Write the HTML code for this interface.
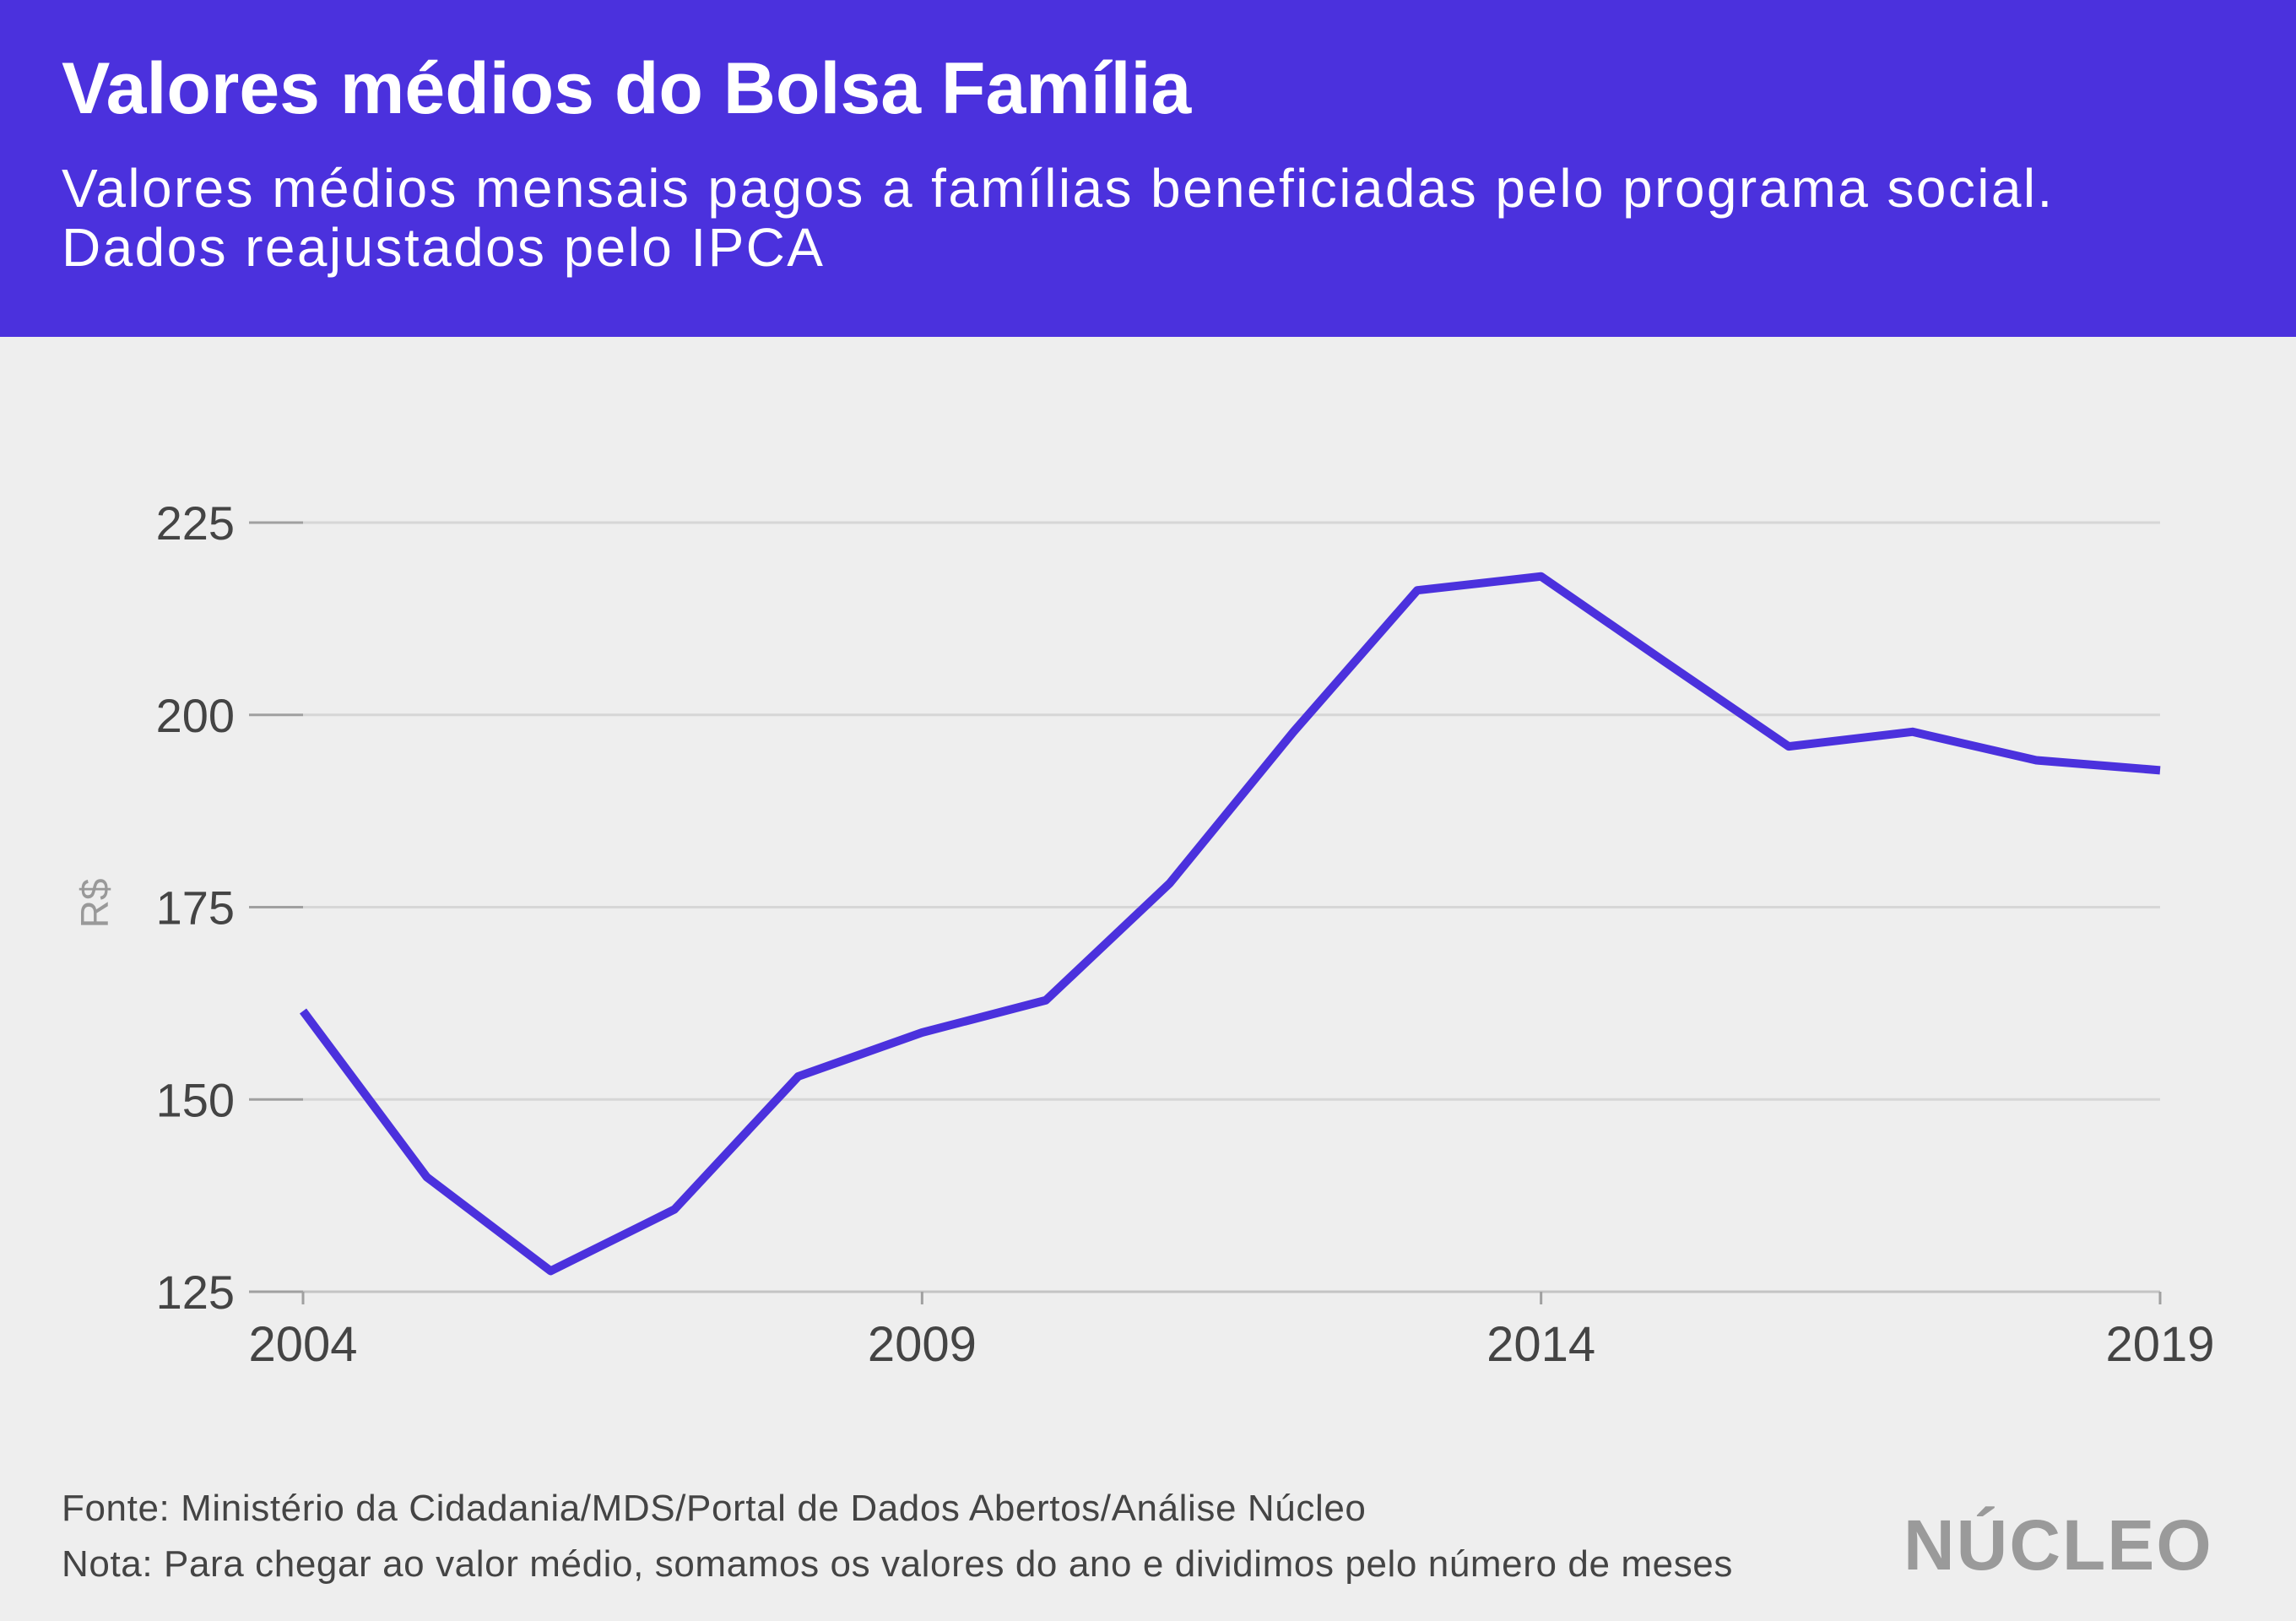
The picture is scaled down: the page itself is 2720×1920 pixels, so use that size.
<!DOCTYPE html>
<html><head><meta charset="utf-8"><style>
body{margin:0;width:2720px;height:1920px;background:#eeeeee;font-family:"Liberation Sans",sans-serif;overflow:hidden;position:relative}
#hdr{position:absolute;left:0;top:0;width:2720px;height:399px;background:#4b31dd}
#title{position:absolute;left:73px;top:56px;color:#fff;font-weight:bold;font-size:86px;margin:0}
#sub{position:absolute;left:73px;top:188px;color:#fff;font-size:64px;line-height:70px;margin:0;letter-spacing:2.4px}
.foot{position:absolute;left:73px;color:#444;font-size:44px;letter-spacing:0.6px}
#logo{position:absolute;left:2255px;top:1782px;color:#9a9a9a;font-weight:900;font-size:84px;letter-spacing:2px}
</style></head><body>
<div id="hdr"></div>
<h1 id="title">Valores médios do Bolsa Família</h1>
<p id="sub">Valores médios mensais pagos a famílias beneficiadas pelo programa social.<br>Dados reajustados pelo IPCA</p>
<svg id="chart" width="2720" height="1920" style="position:absolute;left:0;top:0"></svg>
<div class="foot" style="top:1762px">Fonte: Ministério da Cidadania/MDS/Portal de Dados Abertos/Análise Núcleo</div>
<div class="foot" style="top:1828px">Nota: Para chegar ao valor médio, somamos os valores do ano e dividimos pelo número de meses</div>
<div id="logo">NÚCLEO</div>
<script>
const years=[2004,2005,2006,2007,2008,2009,2010,2011,2012,2013,2014,2015,2016,2017,2018,2019];
const values=[161.5,139.9,127.7,135.7,153,158.7,162.9,178.1,197.8,216.2,218,206.9,195.9,197.8,194.1,192.8];
const yTicks=[125,150,175,200,225];
const xTicks=[2004,2009,2014,2019];
const NS="http://www.w3.org/2000/svg";
const svg=document.getElementById('chart');
const x=v=>359+(v-2004)/(2019-2004)*(2559-359);
const y=v=>1530-(v-125)/100*(1530-619);
function mk(t,a){const e=document.createElementNS(NS,t);for(const k in a)e.setAttribute(k,a[k]);svg.appendChild(e);return e;}
yTicks.forEach(t=>{
 const g=mk('line',{x1:359,x2:2559,y1:y(t),y2:y(t),stroke:t===125?'#c4c4c4':'#d6d6d6','stroke-width':3});
 
 
 const k=mk('line',{x1:295,x2:359,y1:y(t),y2:y(t),stroke:'#a0a0a0','stroke-width':3});
 
 
 const l=mk('text',{x:278,y:y(t)+20,'text-anchor':'end','font-size':56,fill:'#444'});
 l.textContent=t;
 
 
});
xTicks.forEach(t=>{
 const k=mk('line',{x1:x(t),x2:x(t),y1:1530,y2:1545,stroke:'#a0a0a0','stroke-width':3});
 
 
 const l=mk('text',{x:x(t),y:1612,'text-anchor':'middle','font-size':58,fill:'#444'});
 l.textContent=t;
 
 
});
const yl=mk('text',{x:0,y:0,'text-anchor':'middle','font-size':46,fill:'#999',transform:'translate(128,1070) rotate(-90)'});
yl.textContent='R$';


const p=mk('polyline',{points:years.map((yr,i)=>x(yr)+','+y(values[i])).join(' '),fill:'none',stroke:'#4b31dd','stroke-width':10,'stroke-linejoin':'round'});


</script>
</body></html>
